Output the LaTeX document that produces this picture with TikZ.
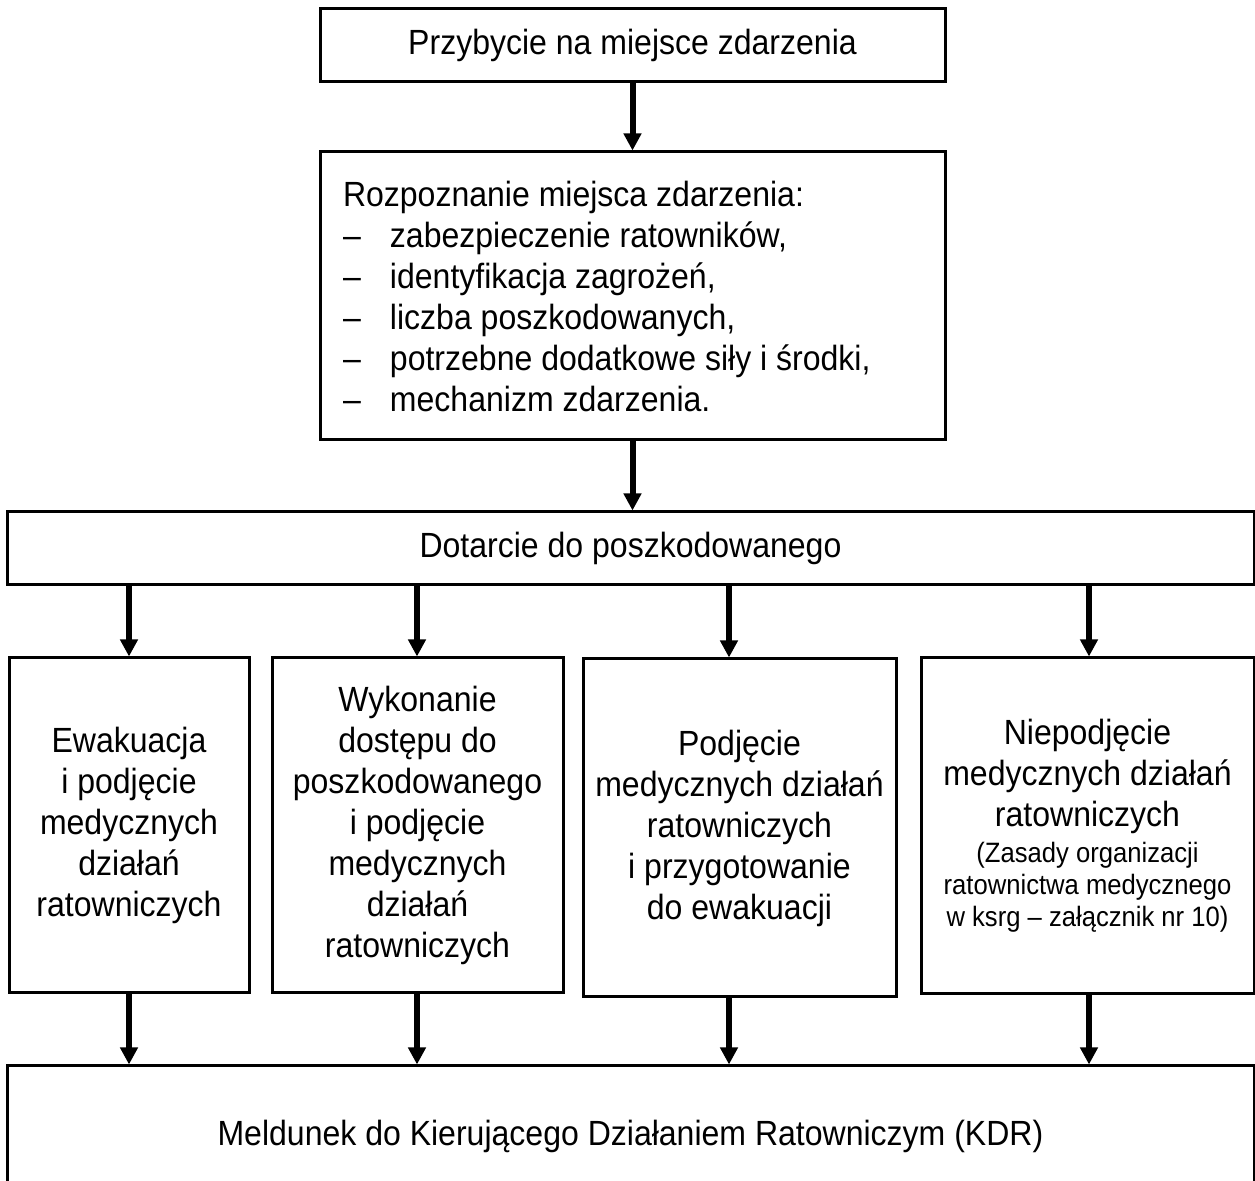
\documentclass[tikz,border=0pt]{standalone}
\usepackage{fontspec}
\setmainfont{Liberation Sans}[FakeStretch=0.915]
\usetikzlibrary{arrows.meta}

\newcommand{\bigtxt}{\fontsize{17.5pt}{20.5pt}\selectfont}
\newcommand{\smalltxt}{\fontsize{14pt}{16pt}\selectfont}
\newcommand{\listdash}{\makebox[23.5pt][l]{–}}

\begin{document}
\begin{tikzpicture}[x=0.5pt, y=-0.5pt,
  box/.style={draw, line width=1.5pt, inner sep=0pt, align=center, font=\bigtxt,
              execute at begin node={\spaceskip=0pt\xspaceskip=0pt}},
  flow/.style={line width=3pt, -{Triangle[length=8.5pt, width=8.5pt]}}]

  %% ── Frame (picture is cut at right and bottom) ─────────────────
  \clip (0,0) rectangle (1255,1181);

  %% ── Arrival and recognition ────────────────────────────────────
  \node[box, minimum width=312.5pt, minimum height=36.5pt] (arrive)
    at (632.5,45) {Przybycie na miejsce zdarzenia};

  \node[box, align=left, text width=289.5pt, inner xsep=11.5pt,
        minimum width=312.5pt, minimum height=144pt] (recon) at (632.5,296)
    {Rozpoznanie miejsca zdarzenia:\\
     \listdash zabezpieczenie ratowników,\\
     \listdash identyfikacja zagrożeń,\\
     \listdash liczba poszkodowanych,\\
     \listdash potrzebne dodatkowe siły i środki,\\
     \listdash mechanizm zdarzenia.};

  %% ── Reaching the casualty ──────────────────────────────────────
  \node[box, minimum width=623.5pt, minimum height=36.5pt] (reach)
    at (630.5,548.5) {Dotarcie do poszkodowanego};

  %% ── Four variants ──────────────────────────────────────────────
  \node[box, minimum width=120pt, minimum height=167.5pt] (evac) at (129,825.5)
    {Ewakuacja\\i podjęcie\\medycznych\\działań\\ratowniczych};

  \node[box, minimum width=145.5pt, minimum height=167.5pt] (access) at (417.5,825.5)
    {Wykonanie\\dostępu do\\poszkodowanego\\i podjęcie\\medycznych\\działań\\ratowniczych};

  \node[box, minimum width=156.5pt, minimum height=169pt] (treat) at (739.5,828)
    {Podjęcie\\medycznych działań\\ratowniczych\\i przygotowanie\\do ewakuacji};

  \node[box, text width=160pt, inner xsep=3.25pt,
        minimum width=166.5pt, minimum height=168pt] (notreat) at (1087.5,826)
    {\centering Niepodjęcie\\medycznych działań\\ratowniczych\par
     \smalltxt\vspace{2pt}(Zasady organizacji\\ratownictwa medycznego\\w ksrg – załącznik nr 10)\par};

  %% ── Report ─────────────────────────────────────────────────────
  \node[box, minimum width=623.5pt, minimum height=70pt] (report) at (630.5,1136)
    {Meldunek do Kierującego Działaniem Ratowniczym (KDR)};

  %% ── Arrows ─────────────────────────────────────────────────────
  \draw[flow] (arrive) -- (recon);
  \draw[flow] (recon.south) -- (reach.north -| recon.south);

  \foreach \b/\cx in {evac/129, access/417, treat/729, notreat/1089}{
    \coordinate (col) at (\cx,0);
    \draw[flow] (reach.south -| col) -- (\b.north -| col);
    \draw[flow] (\b.south -| col) -- (report.north -| col);
  }

\end{tikzpicture}
\end{document}
